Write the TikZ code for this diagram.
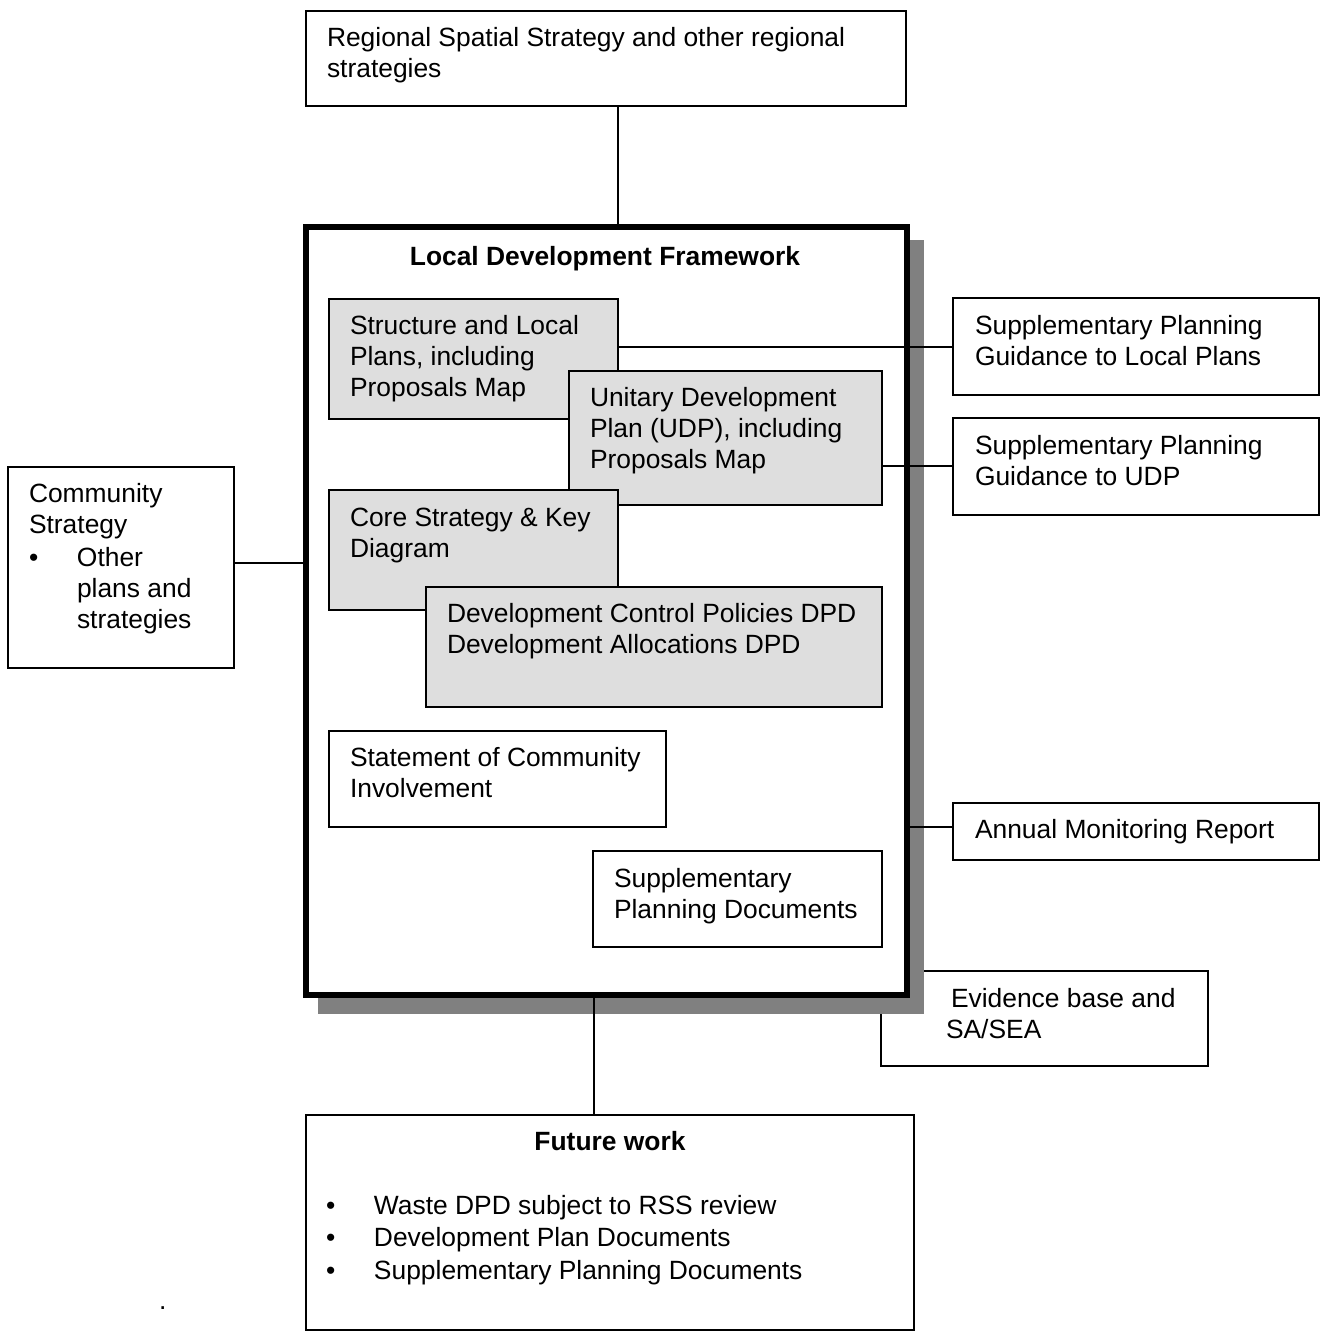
\documentclass[tikz,border=0pt]{standalone}
\usepackage{fontspec}
\setmainfont{Liberation Sans}
\newcommand\fl{\rule{0pt}{21pt}}
\tikzset{
  box/.style={draw=black, line width=1.5pt, fill=white, anchor=north west, inner sep=0, outer sep=0},
  gbox/.style={box, fill=black!13},
  txt/.style={anchor=north west, inner sep=0, outer sep=0, align=left, font=\fontsize{26.4}{31}\selectfont},
  ttl/.style={anchor=north, inner sep=0, outer sep=0, font=\fontsize{26.4}{31}\selectfont\bfseries},
  conn/.style={draw=black, line width=1.5pt},
}
\begin{document}
\begin{tikzpicture}[x=1pt,y=-1pt]
\useasboundingbox (0,0) rectangle (1323,1331);
\fill[white] (0,0) rectangle (1323,1331);
% outer boxes
\node[box, minimum width=600, minimum height=95] (RSS) at (306,11) {};
\node[txt] (RSSt) at (327,25) {\fl Regional Spatial Strategy and other regional\\strategies};
\node[box, minimum width=327, minimum height=95] (EV) at (881,971) {};
\node[txt] (EVt) at (946,986) {\fl\hspace{5pt}Evidence base and\\SA/SEA};
% shadow and LDF frame
\node[fill=black!50, draw=none, anchor=north west, inner sep=0, minimum width=606, minimum height=774] (SH) at (318,240) {};
\node[draw=black, line width=6pt, fill=white, anchor=north west, inner sep=0, outer sep=0, minimum width=601, minimum height=768] (LDF) at (305.5,227) {};
\node[ttl] (LDFt) at (605,244) {\fl Local Development Framework};
% inner boxes
\node[gbox, minimum width=289, minimum height=120] (SLP) at (329,299) {};
\node[txt] (SLPt) at (350,313) {\fl Structure and Local\\Plans, including\\Proposals Map};
\node[gbox, minimum width=313, minimum height=134] (UDP) at (569,371) {};
\node[txt] (UDPt) at (590,385) {\fl Unitary Development\\Plan (UDP), including\\Proposals Map};
\node[gbox, minimum width=289, minimum height=120] (CS) at (329,490) {};
\node[txt] (CSt) at (350,505) {\fl Core Strategy \& Key\\Diagram};
\node[gbox, minimum width=456, minimum height=120] (DCP) at (426,587) {};
\node[txt] (DCPt) at (447,601) {\fl Development Control Policies DPD\\Development Allocations DPD};
\node[box, minimum width=337, minimum height=96] (SCI) at (329,731) {};
\node[txt] (SCIt) at (350,745) {\fl Statement of Community\\Involvement};
\node[box, minimum width=289, minimum height=96] (SPD) at (593,851) {};
\node[txt] (SPDt) at (614,866) {\fl Supplementary\\Planning Documents};
% right boxes
\node[box, minimum width=366, minimum height=97] (SPGLP) at (953,298) {};
\node[txt] (SPGLPt) at (975,313) {\fl Supplementary Planning\\Guidance to Local Plans};
\node[box, minimum width=366, minimum height=97] (SPGUDP) at (953,418) {};
\node[txt] (SPGUDPt) at (975,433) {\fl Supplementary Planning\\Guidance to UDP};
\node[box, minimum width=366, minimum height=57] (AMR) at (953,803) {};
\node[txt] (AMRt) at (975,817) {\fl Annual Monitoring Report};
% left box
\node[box, minimum width=226, minimum height=201] (COM) at (8,467) {};
\node[txt] (COMt) at (29,481) {\fl Community\\Strategy\\[2pt]\makebox[48pt][l]{\textbullet}Other\\\hspace{48pt}plans and\\\hspace{48pt}strategies};
% future work
\node[box, minimum width=608, minimum height=215] (FW) at (306,1115) {};
\node[ttl] (FWt) at (610,1129) {\fl Future work};
\node[txt] (FWl) at (326,1193) {\fl\makebox[48pt][l]{\textbullet}Waste DPD subject to RSS review\\[1.5pt]\makebox[48pt][l]{\textbullet}Development Plan Documents\\[1.5pt]\makebox[48pt][l]{\textbullet}Supplementary Planning Documents};
\node[txt] (dot) at (159,1288) {\fl .};
% connectors
\draw[conn] (RSS.south -| 618,0) -- (LDF.north -| 618,0);
\draw[conn] (SLP.east |- 0,347) -- (SPGLP.west |- 0,347);
\draw[conn] (UDP.east |- 0,466) -- (SPGUDP.west |- 0,466);
\draw[conn] (COM.east |- 0,563) -- (LDF.west |- 0,563);
\draw[conn] (LDF.east |- 0,827) -- (AMR.west |- 0,827);
\draw[conn] (LDF.south -| 594,0) -- (FW.north -| 594,0);
\end{tikzpicture}
\end{document}
